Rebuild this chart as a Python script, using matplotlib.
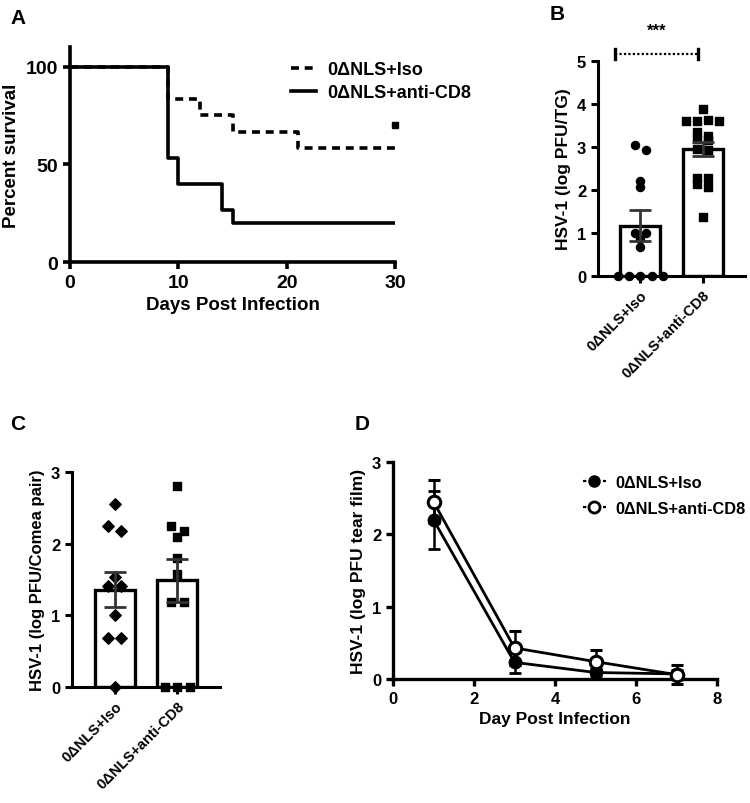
import numpy as np
import matplotlib
matplotlib.use("Agg")
from matplotlib import pyplot as plt
from matplotlib.lines import Line2D

plt.rcParams['font.family'] = ['Liberation Sans', 'DejaVu Sans']
plt.rcParams['font.weight'] = 'bold'
plt.rcParams['axes.labelweight'] = 'bold'

lab_iso = '0\u0394NLS+Iso'
lab_cd8 = '0\u0394NLS+anti-CD8'
groups = [lab_iso, lab_cd8]

# A: survival (step curves)
surv_days_iso = [0, 9, 12, 15, 21, 30]
surv_pct_iso = [100, 83.3, 75, 66.7, 58.3, 58.3]
surv_days_cd8 = [0, 9, 10, 14, 15, 30]
surv_pct_cd8 = [100, 53.3, 40, 26.7, 20, 20]
censor_day, censor_pct = 30, 70

# B: HSV-1 in TG
tg_iso = [3.05, 2.93, 2.2, 2.07, 1.0, 1.0, 0.85, 0.67, 0, 0, 0, 0, 0]
tg_cd8 = [3.88, 3.6, 3.6, 3.62, 3.6, 3.35, 3.26, 3.19, 3.16, 2.95, 2.93,
          2.28, 2.28, 2.14, 2.07, 1.37]
tg_mean = [1.17, 2.95]
tg_sem = [0.36, 0.17]

# C: HSV-1 in cornea
cor_iso = [2.55, 2.24, 2.18, 1.54, 1.41, 1.41, 1.0, 0.69, 0.69, 0]
cor_cd8 = [2.81, 2.24, 2.18, 2.1, 1.8, 1.57, 1.18, 1.18, 0, 0, 0]
cor_mean = [1.36, 1.49]
cor_sem = [0.25, 0.3]

# D: tear film
tear_days = [1, 3, 5, 7]
tear_iso = [2.2, 0.23, 0.09, 0.07]
tear_iso_err = [0.4, 0.15, 0.05, 0.05]
tear_cd8 = [2.45, 0.43, 0.24, 0.06]
tear_cd8_err = [0.3, 0.23, 0.16, 0.13]

W, H = 750, 804
fig = plt.figure(figsize=(7.5, 8.04), dpi=100)


def box(l, r, t, b):
    return [l / W, (H - b) / H, (r - l) / W, (b - t) / H]


def style(ax, lw=2.2):
    for s in ['top', 'right']:
        ax.spines[s].set_visible(False)
    for s in ['left', 'bottom']:
        ax.spines[s].set_linewidth(lw)
    ax.tick_params(width=lw, length=5, direction='out')


def swarm(vals, center, step, tol):
    # spread points of similar value side by side
    vals = np.asarray(vals, dtype=float)
    xs = np.full(len(vals), float(center))
    used = np.zeros(len(vals), bool)
    for i in range(len(vals)):
        if used[i]:
            continue
        grp = [j for j in range(len(vals)) if not used[j] and abs(vals[j] - vals[i]) < tol]
        for j in grp:
            used[j] = True
        n = len(grp)
        offs = (np.arange(n) - (n - 1) / 2) * step
        xs[grp] = center + offs
    return xs


# ---- A ----
axA = fig.add_axes(box(70, 395, 48, 263))
style(axA, 2.6)
axA.step(surv_days_iso, surv_pct_iso, where='post', color='black', lw=2.6,
         ls=(0, (2.2, 1.6)), label=lab_iso)
axA.step(surv_days_cd8, surv_pct_cd8, where='post', color='black', lw=2.6,
         label=lab_cd8)
axA.plot([censor_day], [censor_pct], 's', color='black', ms=4, clip_on=False)
axA.set_xlim(0, 30)
axA.set_ylim(0, 110)
axA.set_xticks([0, 10, 20, 30])
axA.set_yticks([0, 50, 100])
axA.tick_params(labelsize=14)
axA.set_xlabel('Days Post Infection', fontsize=13.5)
axA.set_ylabel('Percent survival', fontsize=13.5)
axA.legend(loc='upper left', bbox_to_anchor=(0.63, 1.01), frameon=False,
           fontsize=13, handlelength=1.4, handletextpad=0.6, labelspacing=0.35)
fig.text(10 / W, 1 - 18 / H, 'A', fontsize=15, fontweight='bold', va='center')


def barpanel(ax, iso, cd8, means, sems, ylab, ytop, mk_iso, tol, step, ylfs):
    style(ax, 2.2)
    xpos = np.arange(2)
    ax.bar(xpos, means, width=0.64, color='white', edgecolor='black',
           linewidth=2.4, zorder=1)
    ax.scatter(swarm(iso, 0, step, tol), iso, marker=mk_iso, s=34,
               color='black', zorder=3, clip_on=False)
    ax.scatter(swarm(cd8, 1, step, tol), cd8, marker='s', s=34,
               color='black', zorder=3, clip_on=False)
    ax.errorbar(xpos, means, yerr=sems, fmt='none', ecolor='#333333',
                elinewidth=2, capsize=8, capthick=2, zorder=4)
    ax.set_xlim(-0.68, 1.68)
    ax.set_ylim(0, ytop)
    ax.set_yticks(range(ytop + 1))
    ax.set_xticks(xpos)
    ax.set_xticklabels(groups, rotation=45, ha='right', rotation_mode='anchor',
                       fontsize=10.5)
    ax.tick_params(axis='y', labelsize=12)
    ax.set_ylabel(ylab, fontsize=ylfs)


# ---- B ----
axB = fig.add_axes(box(598, 745, 62, 277))
barpanel(axB, tg_iso, tg_cd8, tg_mean, tg_sem, 'HSV-1 (log PFU/TG)', 5, 'o',
         0.12, 0.18, 12.5)
axB.plot([-0.41, 0.92], [5.16, 5.16], ls=(0, (1, 1)), color='black', lw=1.6,
         clip_on=False)
for xb in [-0.41, 0.92]:
    axB.plot([xb, xb], [5.04, 5.28], color='black', lw=2.4, clip_on=False)
axB.text(0.255, 5.72, '***', ha='center', va='center', fontsize=12,
         fontweight='bold')
fig.text(550 / W, 1 - 14 / H, 'B', fontsize=15, fontweight='bold', va='center')

# ---- C ----
axC = fig.add_axes(box(72, 220, 473, 688))
barpanel(axC, cor_iso, cor_cd8, cor_mean, cor_sem,
         'HSV-1 (log PFU/Comea pair)', 3, 'D', 0.09, 0.2, 12)
fig.text(10 / W, 1 - 424 / H, 'C', fontsize=15, fontweight='bold', va='center')

# ---- D ----
axD = fig.add_axes(box(393, 717, 463, 680))
style(axD, 2.4)
axD.errorbar(tear_days, tear_iso, yerr=tear_iso_err, color='black', lw=2,
             marker='o', ms=9, mfc='black', mec='black', capsize=4,
             capthick=2, elinewidth=1.8, clip_on=False, zorder=3)
axD.errorbar(tear_days, tear_cd8, yerr=tear_cd8_err, color='black', lw=2,
             marker='o', ms=9, mfc='white', mec='black', mew=2.2, capsize=4,
             capthick=2, elinewidth=1.8, clip_on=False, zorder=4)
axD.set_xlim(0, 8)
axD.set_ylim(0, 3)
axD.set_xticks([0, 2, 4, 6, 8])
axD.set_yticks([0, 1, 2, 3])
axD.tick_params(labelsize=12)
axD.set_xlabel('Day Post Infection', fontsize=12.5)
axD.set_ylabel('HSV-1 (log PFU tear film)', fontsize=12.5)
hD = [Line2D([], [], color='black', lw=1.6, ls=(0, (1.5, 1.5)), marker='o',
             ms=8, mfc='black', mec='black'),
      Line2D([], [], color='black', lw=1.6, ls=(0, (1.5, 1.5)), marker='o',
             ms=8, mfc='white', mec='black', mew=2)]
axD.legend(hD, groups, loc='upper left', bbox_to_anchor=(0.54, 1.01),
           frameon=False, fontsize=11.8, handlelength=1.4, handletextpad=0.6,
           labelspacing=0.7)
fig.text(355 / W, 1 - 424 / H, 'D', fontsize=15, fontweight='bold', va='center')

fig.savefig('out.png', dpi=100)
